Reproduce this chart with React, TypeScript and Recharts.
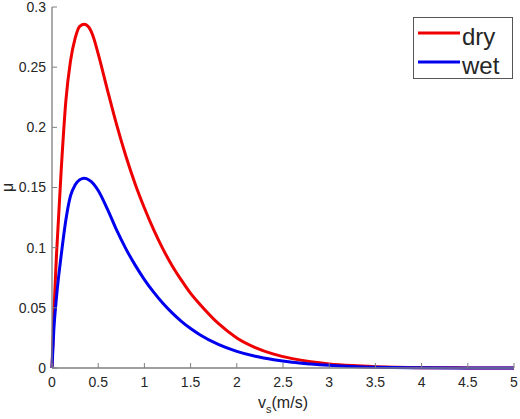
import React from "react";
import { LineChart, Line, XAxis, YAxis, Legend } from "recharts";

// Sliding speed v_s (m/s)
const speeds = [
  0, 0.02, 0.05, 0.1, 0.15, 0.2, 0.25, 0.3, 0.35, 0.4,
  0.45, 0.5, 0.6, 0.7, 0.8, 0.9, 1.0, 1.1, 1.2, 1.3,
  1.4, 1.5, 1.6, 1.8, 2.0, 2.2, 2.4, 2.6, 2.8, 3.0,
  3.25, 3.5, 4.0, 4.5, 5.0,
];

// Friction coefficient μ, dry surface
const dryMu = [
  0, 0.045, 0.096, 0.165, 0.222, 0.255, 0.274, 0.284, 0.2857, 0.283,
  0.2745, 0.261, 0.231, 0.202, 0.176, 0.153, 0.133, 0.115, 0.099, 0.085,
  0.073, 0.062, 0.053, 0.037, 0.025, 0.017, 0.0115, 0.0078, 0.0052, 0.0034,
  0.002, 0.0011, 0.0003, 0.0001, 0,
];

// Friction coefficient μ, wet surface
const wetMu = [
  0, 0.032, 0.06, 0.094, 0.123, 0.143, 0.152, 0.1565, 0.1576, 0.1563,
  0.153, 0.1475, 0.132, 0.1145, 0.099, 0.0855, 0.0735, 0.063, 0.0538, 0.0458,
  0.0388, 0.0328, 0.0277, 0.0196, 0.0138, 0.0097, 0.0068, 0.0047, 0.0033, 0.0022,
  0.0012, 0.0006, 0.0002, 0.00005, 0,
];

const xTicks = [0, 0.5, 1, 1.5, 2, 2.5, 3, 3.5, 4, 4.5, 5];
const yTicks = [0, 0.05, 0.1, 0.15, 0.2, 0.25, 0.3];

const data = speeds.map((v, i) => ({ v, dry: dryMu[i], wet: wetMu[i] }));

const FONT = '"Liberation Sans", Arial, Helvetica, sans-serif';
const AXIS_COLOR = "#7f7f7f";
const TEXT_COLOR = "#262626";
const RED = "#ee0000";
const BLUE = "#0000ee";

const tickStyle = { fontSize: 14, fill: TEXT_COLOR, fontFamily: FONT };
const axisLine = { stroke: AXIS_COLOR, strokeWidth: 1.3 };
const tickLine = { stroke: AXIS_COLOR, strokeWidth: 1 };

function XTitle(props: any) {
  const vb = props.viewBox || { x: 0, y: 0, width: 0, height: 0 };
  const cx = vb.x + vb.width / 2;
  const base = vb.y + 40;
  return (
    <text x={cx} y={base} textAnchor="middle" fontSize={16} fill={TEXT_COLOR} fontFamily={FONT}>
      <tspan>v</tspan>
      <tspan dy={5} fontSize={11}>s</tspan>
      <tspan dy={-5}>(m/s)</tspan>
    </text>
  );
}

function YTitle(props: any) {
  const vb = props.viewBox || { x: 0, y: 0, width: 0, height: 0 };
  const cy = vb.y + vb.height / 2;
  const x = 13;
  return (
    <text
      x={x}
      y={cy}
      textAnchor="middle"
      fontSize={16}
      fill={TEXT_COLOR}
      fontFamily={FONT}
      transform={`rotate(-90, ${x}, ${cy})`}
    >
      μ
    </text>
  );
}

function LegendBox(props: any) {
  const payload = props.payload || [];
  return (
    <svg width={100} height={62} style={{ display: "block" }}>
      <rect x={0.5} y={0.5} width={99} height={61} fill="#ffffff" stroke="#555555" strokeWidth={1} />
      {payload.map((entry: any, i: number) => {
        const cy = 16 + i * 29;
        return (
          <g key={entry.value}>
            <line x1={5} x2={47} y1={cy} y2={cy} stroke={entry.color} strokeWidth={3} />
            <text x={49} y={cy + 12} fontSize={24} fill={TEXT_COLOR} fontFamily={FONT}>
              {entry.value}
            </text>
          </g>
        );
      })}
    </svg>
  );
}

export default function App() {
  return (
    <div style={{ position: "absolute", left: 0, top: 0, width: 520, height: 419, background: "#ffffff" }}>
      <LineChart
        width={520}
        height={419}
        data={data}
        margin={{ top: 7, right: 6, left: 0, bottom: 0 }}
      >
        <XAxis
          xAxisId="bottom"
          dataKey="v"
          type="number"
          domain={[0, 5]}
          ticks={xTicks}
          interval={0}
          height={51}
          tickSize={-5}
          tickMargin={14}
          tick={tickStyle}
          axisLine={axisLine}
          tickLine={tickLine}
          label={<XTitle />}
        />
        <XAxis
          xAxisId="top"
          orientation="top"
          dataKey="v"
          type="number"
          domain={[0, 5]}
          ticks={xTicks}
          interval={0}
          height={0}
          tickSize={-5}
          tick={false}
          axisLine={axisLine}
          tickLine={tickLine}
        />
        <YAxis
          yAxisId="left"
          type="number"
          domain={[0, 0.3]}
          ticks={yTicks}
          interval={0}
          width={52}
          tickSize={-5}
          tickMargin={11}
          tick={tickStyle}
          axisLine={axisLine}
          tickLine={tickLine}
          label={<YTitle />}
        />
        <YAxis
          yAxisId="right"
          orientation="right"
          type="number"
          domain={[0, 0.3]}
          ticks={yTicks}
          interval={0}
          width={0}
          tickSize={-5}
          tick={false}
          axisLine={axisLine}
          tickLine={tickLine}
        />
        <Legend
          layout="horizontal"
          verticalAlign="middle"
          align="center"
          content={<LegendBox />}
          wrapperStyle={{ position: "absolute", left: 413, top: 17, width: 100, height: 62 }}
        />
        <Line
          xAxisId="bottom"
          yAxisId="left"
          type="monotone"
          dataKey="dry"
          name="dry"
          stroke={RED}
          strokeWidth={3}
          dot={false}
          activeDot={false}
          isAnimationActive={false}
        />
        <Line
          xAxisId="bottom"
          yAxisId="left"
          type="monotone"
          dataKey="wet"
          name="wet"
          stroke={BLUE}
          strokeWidth={3}
          dot={false}
          activeDot={false}
          isAnimationActive={false}
        />
      </LineChart>
    </div>
  );
}
